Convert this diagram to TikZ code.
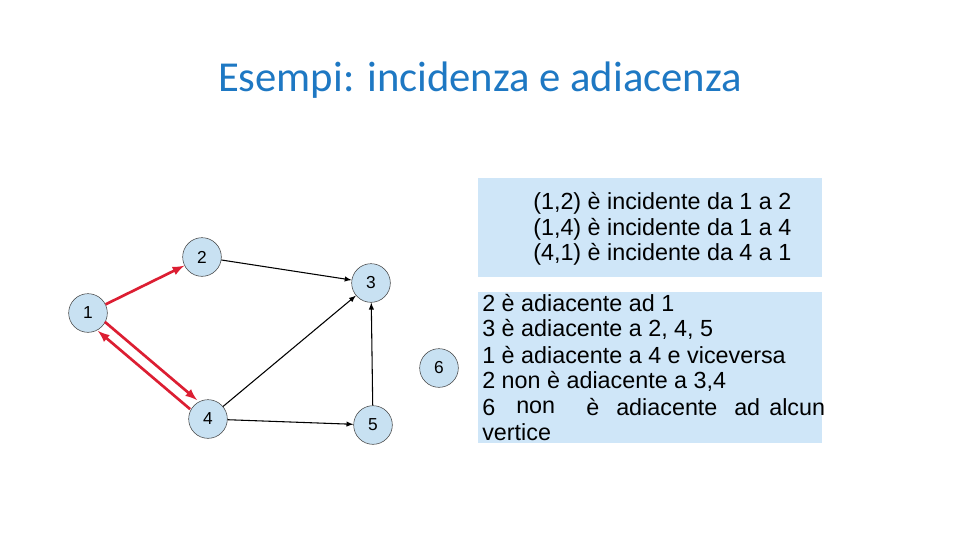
\documentclass[tikz,border=0pt]{standalone}
\usepackage{fontspec}
\setmainfont{Liberation Sans}
\newfontfamily\titlefont{Carlito}
\begin{document}
\begin{tikzpicture}[x=0.75pt,y=-0.75pt]
\definecolor{tblue}{RGB}{30,120,195}
\definecolor{vfill}{RGB}{200,225,242}
\definecolor{boxbg}{RGB}{207,230,248}
\definecolor{redge}{RGB}{220,30,50}
\tikzset{vert/.style={circle,draw=black!75,fill=vfill,minimum size=29pt,inner sep=0pt,font=\fontsize{13}{13}\selectfont},
 bedge/.style={draw=black,thick,-{latex}},
 redg/.style={draw=redge,line width=2pt,-{latex}},
 line/.style={anchor=west,inner sep=0pt,font=\fontsize{17.5}{17.5}\selectfont}}
\useasboundingbox (0,0) rectangle (960,540);
\node[font=\titlefont\fontsize{32}{32}\selectfont,text=tblue] (title) at (480,80) {Esempi: incidenza e adiacenza};
\node (v1) at (88,313) [vert] {1};
\node (v2) at (202,257) [vert] {2};
\node (v3) at (371,283) [vert] {3};
\node (v4) at (208,419) [vert] {4};
\node (v5) at (373,425) [vert] {5};
\node (v6) at (439,368) [vert] {6};
\draw[redg] (v1) -- (v2);
\draw[redg] ([shift={(3,-5)}]v1.south east) -- ([shift={(3,-5)}]v4.north west);
\draw[redg] ([shift={(-4,4)}]v4.north west) -- ([shift={(-4,4)}]v1.south east);
\draw[bedge] (v2) -- (v3);
\draw[bedge] (v4) -- (v3);
\draw[bedge] (v4) -- (v5);
\draw[bedge] (v5) -- (v3);
\fill[boxbg] (478,178) rectangle (822,277);
\fill[boxbg] (478,292) rectangle (822,443);
\node[line] (a1) at (533,203) {(1,2) è incidente da 1 a 2};
\node[line] (a2) at (533,229) {(1,4) è incidente da 1 a 4};
\node[line] (a3) at (533,254) {(4,1) è incidente da 4 a 1};
\node[line] (b1) at (482,303) {2 è adiacente ad 1};
\node[line] (b2) at (482,329) {3 è adiacente a 2, 4, 5};
\node[line] (b3) at (482,355) {1 è adiacente a 4 e viceversa};
\node[line] (b4) at (482,381) {2 non è adiacente a 3,4};
\node[line] (b5) at (482,407) {6};
\node[line] (b5b) at (516,407) {non};
\node[line] (b5c) at (586,407) {è};
\node[line] (b5d) at (616,407) {adiacente};
\node[line] (b5e) at (734,407) {ad};
\node[line] (b5f) at (769,407) {alcun};
\node[line] (b6) at (482,432) {vertice};
\end{tikzpicture}
\end{document}
